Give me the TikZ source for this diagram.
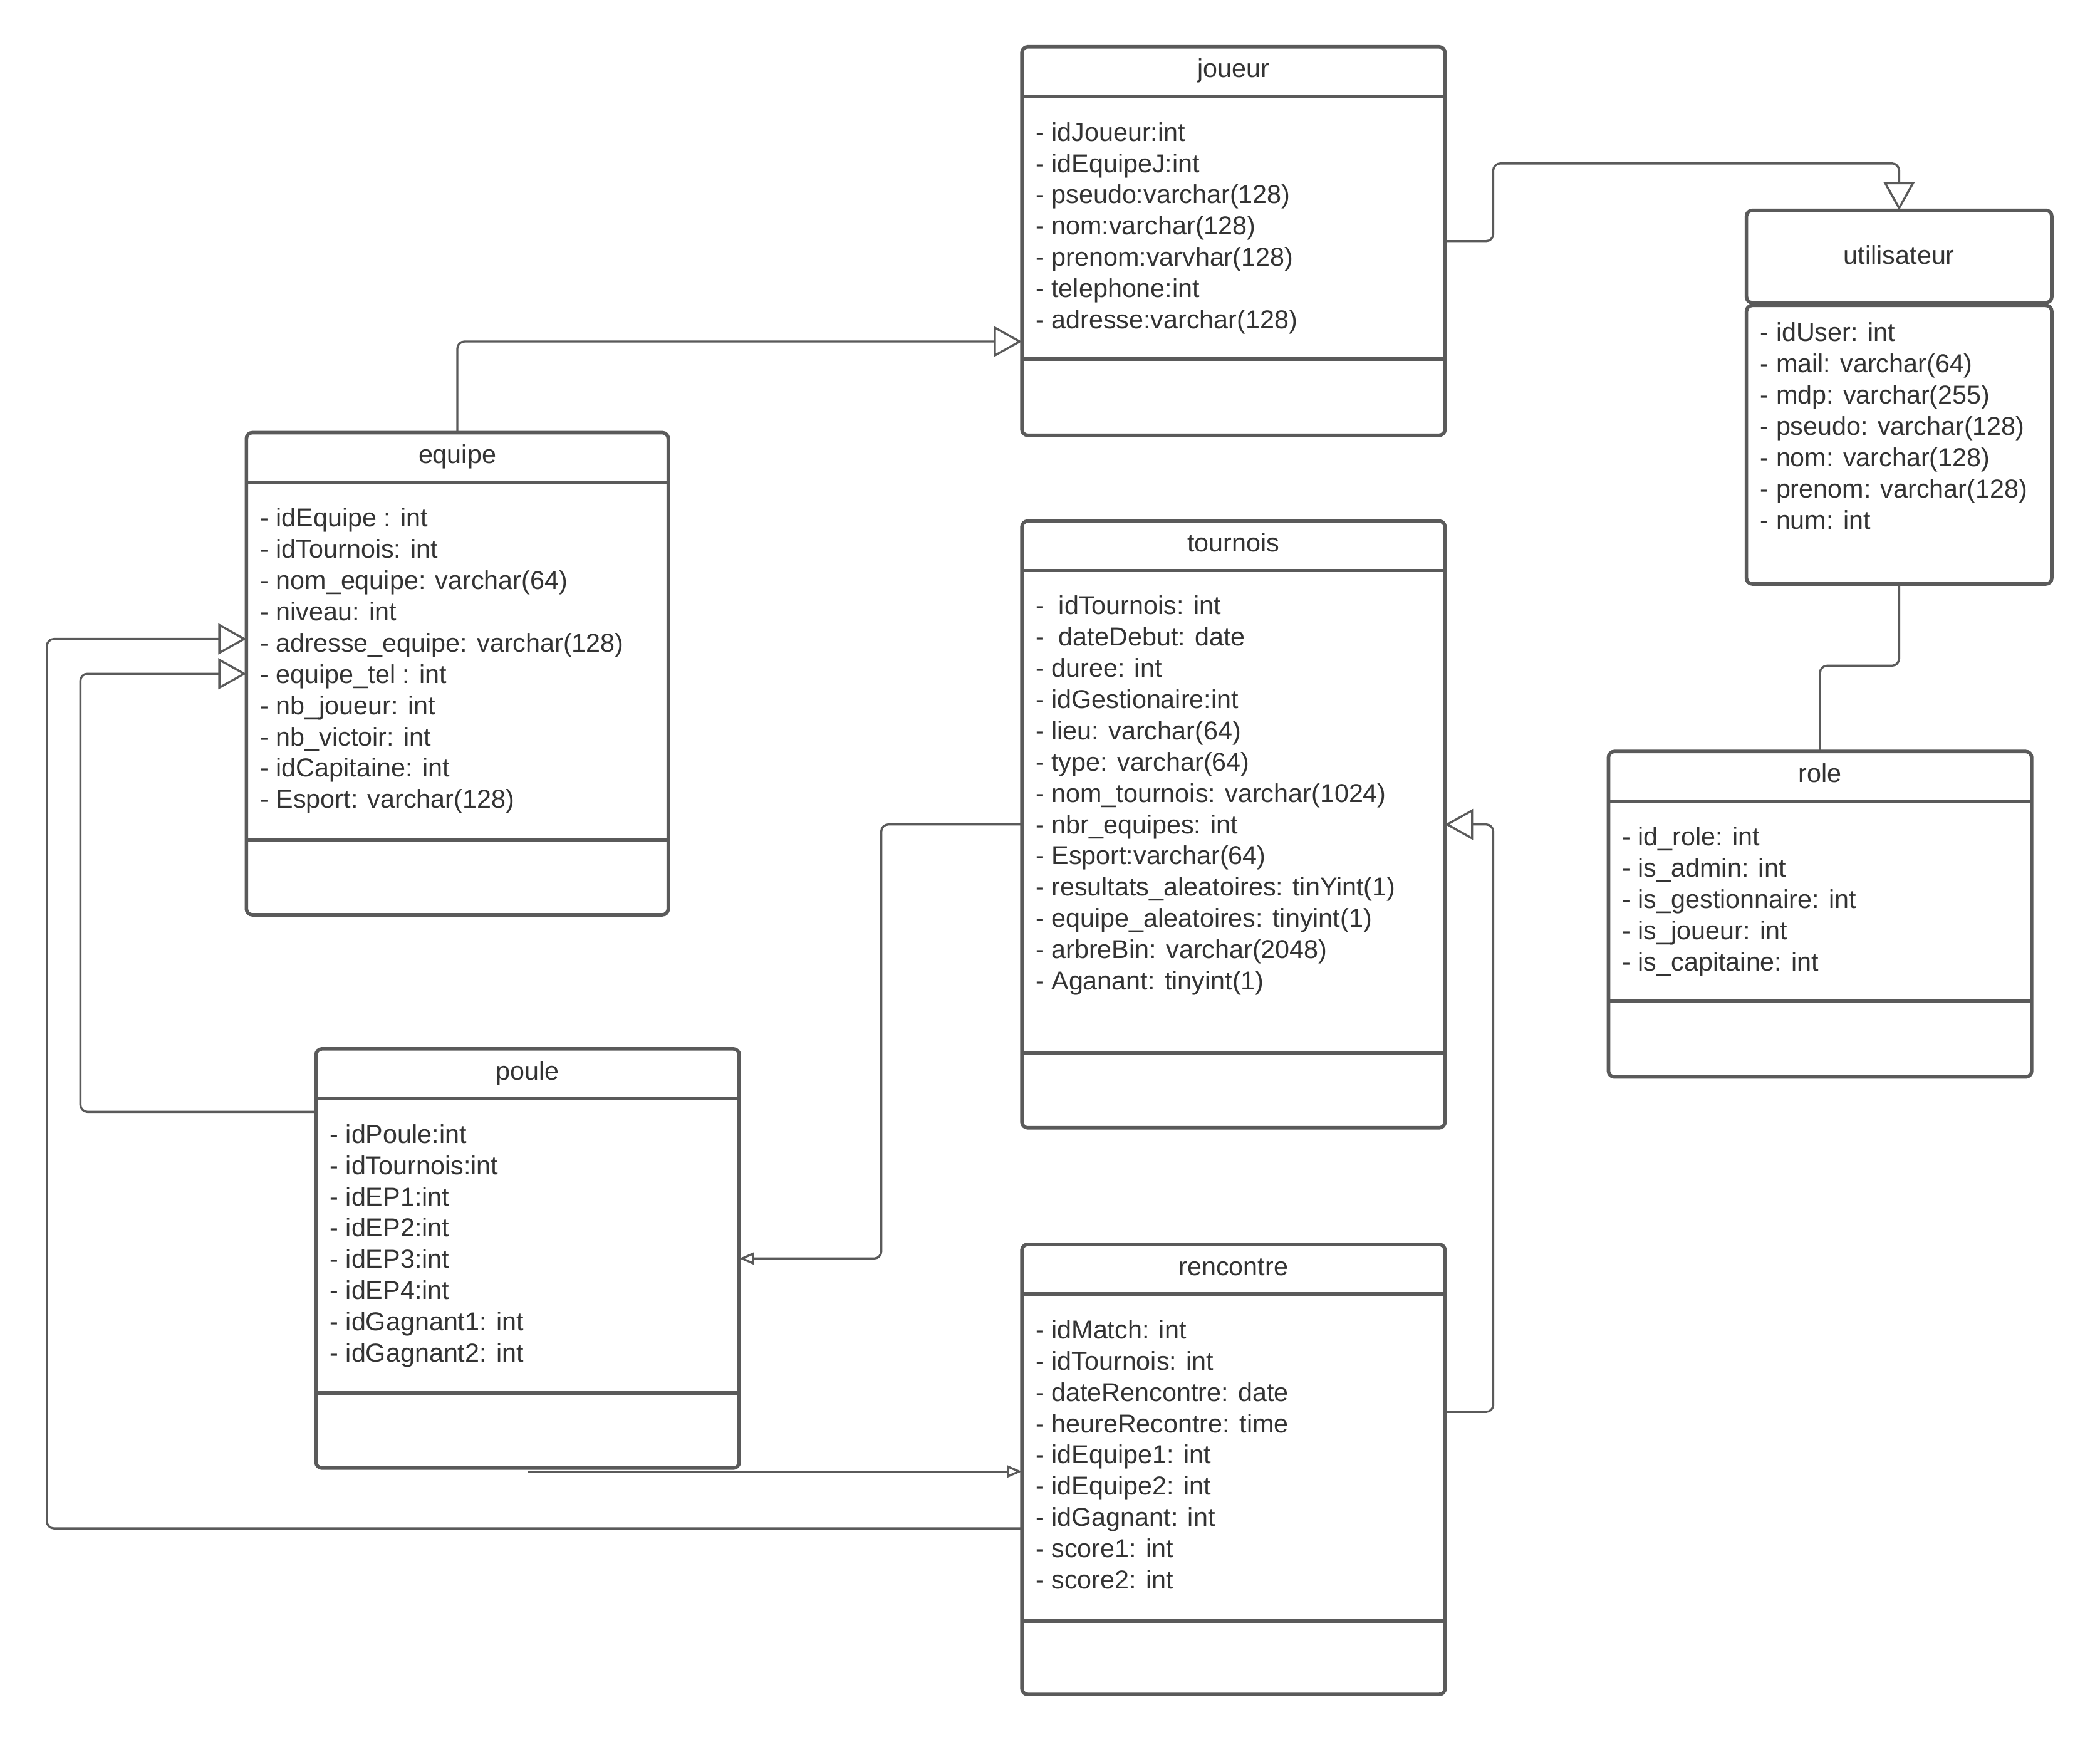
\documentclass[tikz,border=0pt]{standalone}
\usepackage{fontspec}
\setmainfont{Liberation Sans}
\usepackage{tikz}
\usetikzlibrary{arrows.meta,positioning,calc}
\definecolor{LineGrey}{HTML}{5A5A5A}
\definecolor{TextGrey}{HTML}{333333}
\tikzset{
  % Class box
  CB/.style={rectangle,rounded corners=2.5pt,draw=LineGrey,line width=1.5pt,
             fill=white,anchor=north west,inner sep=0pt,outer sep=0pt},
  % Class title
  TT/.style={anchor=base,inner sep=0pt,text=TextGrey,
             font=\fontsize{11}{13.28}\selectfont},
  % Attribute list
  AT/.style={anchor=north west,inner sep=0pt,align=left,text=TextGrey,
             font=\fontsize{11}{13.28}\selectfont,execute at begin node=\strut},
  % Compartment line
  SL/.style={draw=LineGrey,line width=1.5pt},
  % Connectors
  lnk/.style={draw=LineGrey,line width=0.9pt,rounded corners=3pt},
  gen/.style={lnk,-{Triangle[open,length=0.42cm,width=0.46cm,line width=0.9pt]}},
  asc/.style={lnk,-{Triangle[open,length=0.22cm,width=0.18cm,line width=0.9pt]}}
}
\begin{document}
\begin{tikzpicture}[x=0.02cm,y=-0.02cm]
  \fill[white] (0,0) rectangle (1568,1300);
  \useasboundingbox (0,0) rectangle (1568,1300);

  % joueur
  \node[CB,minimum width=6.32cm,minimum height=5.8cm] (joueur) at (763,35) {};
  \draw[SL] (763,72) -- (1079,72);
  \draw[SL] (763,268) -- (1079,268);
  \node[TT] (joueurT) at (921,58) {joueur};
  \node[AT] (joueurA) at (773,91) {- idJoueur:int\\- idEquipeJ:int\\- pseudo:varchar(128)\\
    - nom:varchar(128)\\- prenom:varvhar(128)\\- telephone:int\\- adresse:varchar(128)};

  % utilisateur
  \node[CB,minimum width=4.56cm,minimum height=1.38cm] (utilisateur) at (1304,157) {};
  \node[CB,minimum width=4.56cm,minimum height=4.16cm] (utilisateurB) at (1304,228) {};
  \node[TT] (utilisateurT) at (1418,197) {utilisateur};
  \node[AT] (utilisateurA) at (1314,240.5) {- idUser: int\\- mail: varchar(64)\\- mdp: varchar(255)\\
    - pseudo: varchar(128)\\- nom: varchar(128)\\- prenom: varchar(128)\\- num: int};

  % equipe
  \node[CB,minimum width=6.3cm,minimum height=7.2cm] (equipe) at (184,323) {};
  \draw[SL] (184,360) -- (499,360);
  \draw[SL] (184,627) -- (499,627);
  \node[TT] (equipeT) at (341.5,346) {equipe};
  \node[AT] (equipeA) at (194,379) {- idEquipe : int\\- idTournois: int\\- nom\_equipe: varchar(64)\\
    - niveau: int\\- adresse\_equipe: varchar(128)\\- equipe\_tel : int\\- nb\_joueur: int\\
    - nb\_victoir: int\\- idCapitaine: int\\- Esport: varchar(128)};

  % tournois
  \node[CB,minimum width=6.32cm,minimum height=9.06cm] (tournois) at (763,389) {};
  \draw[SL] (763,426) -- (1079,426);
  \draw[SL] (763,786) -- (1079,786);
  \node[TT] (tournoisT) at (921,412) {tournois};
  \node[AT] (tournoisA) at (773,444.5) {-\ \ idTournois: int\\-\ \ dateDebut: date\\- duree: int\\
    - idGestionaire:int\\- lieu: varchar(64)\\- type: varchar(64)\\- nom\_tournois: varchar(1024)\\
    - nbr\_equipes: int\\- Esport:varchar(64)\\- resultats\_aleatoires: tinYint(1)\\
    - equipe\_aleatoires: tinyint(1)\\- arbreBin: varchar(2048)\\- Aganant: tinyint(1)};

  % role
  \node[CB,minimum width=6.32cm,minimum height=4.86cm] (role) at (1201,561) {};
  \draw[SL] (1201,598) -- (1517,598);
  \draw[SL] (1201,747) -- (1517,747);
  \node[TT] (roleT) at (1359,584) {role};
  \node[AT] (roleA) at (1211,617) {- id\_role: int\\- is\_admin: int\\- is\_gestionnaire: int\\
    - is\_joueur: int\\- is\_capitaine: int};

  % poule
  \node[CB,minimum width=6.32cm,minimum height=6.26cm] (poule) at (236,783) {};
  \draw[SL] (236,820) -- (552,820);
  \draw[SL] (236,1040) -- (552,1040);
  \node[TT] (pouleT) at (394,806) {poule};
  \node[AT] (pouleA) at (246,839) {- idPoule:int\\- idTournois:int\\- idEP1:int\\- idEP2:int\\
    - idEP3:int\\- idEP4:int\\- idGagnant1: int\\- idGagnant2: int};

  % rencontre
  \node[CB,minimum width=6.32cm,minimum height=6.72cm] (rencontre) at (763,929) {};
  \draw[SL] (763,966) -- (1079,966);
  \draw[SL] (763,1210) -- (1079,1210);
  \node[TT] (rencontreT) at (921,952) {rencontre};
  \node[AT] (rencontreA) at (773,985) {- idMatch: int\\- idTournois: int\\- dateRencontre: date\\
    - heureRecontre: time\\- idEquipe1: int\\- idEquipe2: int\\- idGagnant: int\\
    - score1: int\\- score2: int};

  % links
  \draw[gen] (joueur.east) -- ++(36,0) |- ([yshift=0.7cm]utilisateur.north) -- (utilisateur.north);
  \draw[gen] (equipe.north) |- ([yshift=-1.5cm]joueur.west);
  \draw[lnk] (utilisateurB.south) -- ++(0,61) -| (role.north);
  \draw[asc] (tournois.west) -- ++(-105,0) |- (poule.east);
  \draw[gen] ([yshift=0.86cm]rencontre.east) -- ++(36,0) |- (tournois.east);
  \draw[asc] ([yshift=-0.03cm]poule.south |- rencontre.west) -- ([yshift=-0.03cm]rencontre.west);
  \draw[gen] ([yshift=-0.88cm]rencontre.west) -| ([xshift=-2.98cm,yshift=0.52cm]equipe.west)
    -- ([yshift=0.52cm]equipe.west);
  \draw[gen] ([yshift=2.19cm]poule.west) -| ([xshift=-2.48cm]equipe.west) -- (equipe.west);
\end{tikzpicture}
\end{document}
